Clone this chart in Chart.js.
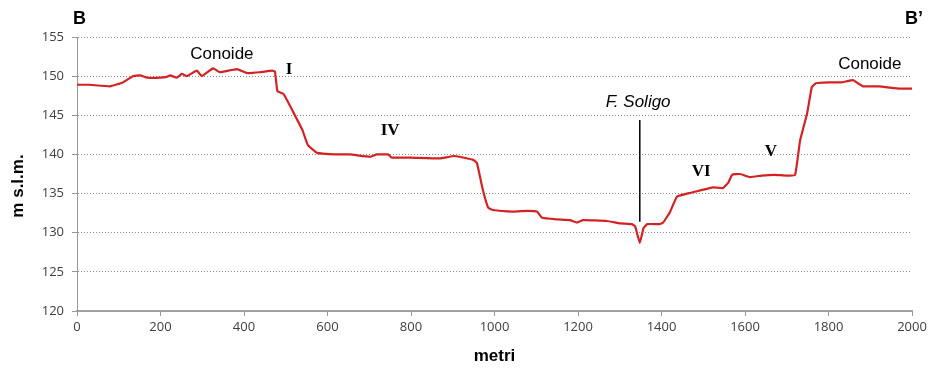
<!DOCTYPE html>
<html>
<head>
<meta charset="utf-8">
<script src="https://cdn.jsdelivr.net/npm/chart.js@4/dist/chart.umd.min.js"></script>
<style>
  body { margin: 0; background: #fff; }
  #wrap { width: 940px; height: 371px; }
</style>
</head>
<body>
<div id="wrap"><canvas id="myChart"></canvas></div>
<script>
// distance along section (m) and elevation (m s.l.m.)
const distance = [0, 30, 79, 110, 134, 151, 168, 199, 215, 223, 239, 251, 263, 287, 299, 326, 342, 383, 407, 438, 467, 474,
  480, 495, 517, 540, 553, 575, 620, 654, 702, 718, 745, 754, 800, 869, 905, 949, 958, 972, 985, 996, 1044, 1078, 1102,
  1114, 1150, 1181, 1198, 1212, 1269, 1301, 1329, 1337, 1348, 1357, 1366, 1395, 1404, 1420, 1437, 1470, 1500, 1523, 1547,
  1560, 1569, 1588, 1612, 1640, 1670, 1700, 1720, 1732, 1749, 1760, 1770, 1800, 1830, 1859, 1870, 1883, 1920, 1971, 2000];
const elevation = [148.9, 148.9, 148.7, 149.2, 150.0, 150.1, 149.8, 149.8, 149.9, 150.1, 149.8, 150.3, 150.0, 150.7, 150.0, 151.0, 150.5, 150.9, 150.4, 150.5, 150.7, 150.6,
  148.1, 147.7, 145.5, 143.1, 141.2, 140.2, 140.0, 140.0, 139.7, 140.0, 140.0, 139.6, 139.6, 139.5, 139.8, 139.3, 138.9, 135.5, 133.2, 132.9, 132.7, 132.8, 132.7,
  131.9, 131.7, 131.6, 131.3, 131.6, 131.5, 131.2, 131.1, 130.8, 128.7, 130.6, 131.1, 131.1, 131.3, 132.6, 134.6, 135.1, 135.5, 135.8, 135.7,
  136.4, 137.4, 137.5, 137.1, 137.3, 137.4, 137.3, 137.4, 141.8, 145.3, 148.6, 149.1, 149.2, 149.2, 149.5, 149.1, 148.7, 148.7, 148.4, 148.4];

const xTicks = [0, 200, 400, 600, 800, 1000, 1200, 1400, 1600, 1800, 2000];
const yTicks = [120, 125, 130, 135, 140, 145, 150, 155];

// text labels on the section: [text, distance, elevation, font]
const labels = [
  ["Conoide", 347, 152.8, "17px 'Liberation Sans'"],
  ["Conoide", 1899, 151.5, "17px 'Liberation Sans'"],
  ["I", 508, 150.8, "bold 17px 'Liberation Serif'"],
  ["IV", 750, 143.0, "bold 17px 'Liberation Serif'"],
  ["VI", 1495, 137.8, "bold 17px 'Liberation Serif'"],
  ["V", 1662, 140.3, "bold 17px 'Liberation Serif'"],
  ["F. Soligo", 1344, 146.6, "italic 17px 'Liberation Sans'"]
];
const riverX = 1348;
const riverTop = 144.4;
const riverBottom = 131.4;

const points = distance.map((d, i) => ({ x: d, y: elevation[i] }));

const annotate = {
  id: "annotate",
  afterDatasetsDraw(chart) {
    const ctx = chart.ctx;
    const xs = chart.scales.x;
    const ys = chart.scales.y;
    const area = chart.chartArea;
    ctx.save();
    ctx.fillStyle = "#000";
    ctx.textBaseline = "middle";
    ctx.textAlign = "center";
    labels.forEach(([t, x, y, f]) => {
      ctx.font = f;
      ctx.fillText(t, xs.getPixelForValue(x), ys.getPixelForValue(y));
    });
    ctx.font = "bold 18px 'Liberation Sans'";
    ctx.textAlign = "left";
    ctx.fillText("B", area.left - 4, area.top - 18);
    ctx.textAlign = "right";
    ctx.fillText("B\u2019", area.right + 11, area.top - 18);
    // river line
    ctx.strokeStyle = "#000";
    ctx.lineWidth = 1.5;
    ctx.beginPath();
    ctx.moveTo(xs.getPixelForValue(riverX), ys.getPixelForValue(riverTop));
    ctx.lineTo(xs.getPixelForValue(riverX), ys.getPixelForValue(riverBottom));
    ctx.stroke();
    // y title
    ctx.translate(18, 186);
    ctx.rotate(-Math.PI / 2);
    ctx.textAlign = "center";
    ctx.font = "bold 17px 'Liberation Sans'";
    ctx.fillText("m s.l.m.", 0, 0);
    ctx.restore();
  }
};

new Chart(document.getElementById("myChart"), {
  type: "line",
  data: {
    datasets: [{
      data: points,
      borderColor: "#d42222",
      borderWidth: 2.2,
      pointRadius: 0,
      tension: 0.1
    }]
  },
  options: {
    responsive: true,
    maintainAspectRatio: false,
    animation: false,
    layout: { padding: { left: 0, right: 28, top: 37, bottom: 0 } },
    plugins: { legend: { display: false }, tooltip: { enabled: false } },
    scales: {
      x: {
        type: "linear",
        min: 0,
        max: 2000,
        afterFit: (s) => { s.height = 60; },
        afterBuildTicks: (s) => { s.ticks = xTicks.map((v) => ({ value: v })); },
        grid: { drawOnChartArea: false, drawTicks: true, tickLength: 5, color: "#999" },
        border: { color: "#a0a0a0", width: 2 },
        ticks: { color: "#404040", font: { family: "'Open Sans'", size: 13 }, padding: 3, callback: (v) => String(v) },
        title: { display: true, text: "metri", color: "#000", font: { family: "'Liberation Sans'", size: 17, weight: "bold" }, padding: { top: 0 } }
      },
      y: {
        min: 120,
        max: 155,
        afterFit: (s) => { s.width = 77; },
        afterBuildTicks: (s) => { s.ticks = yTicks.map((v) => ({ value: v })); },
        grid: { color: "#8a8a8a", tickLength: 5, tickColor: "#999", tickBorderDash: [] },
        border: { color: "#999", width: 1, dash: [1, 2] },
        ticks: { color: "#404040", font: { family: "'Open Sans'", size: 13 }, padding: 8, callback: (v) => String(v) }
      }
    }
  },
  plugins: [annotate]
});
</script>
</body>
</html>
